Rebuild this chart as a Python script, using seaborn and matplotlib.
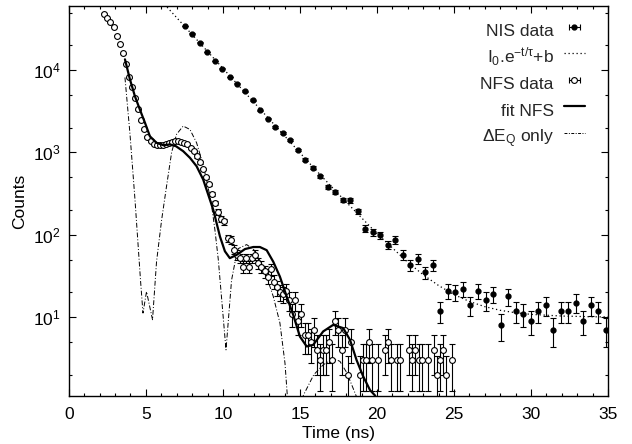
import numpy as np
import matplotlib
matplotlib.use("Agg")
import matplotlib.pyplot as plt
import seaborn as sns
from matplotlib.lines import Line2D
from matplotlib.legend_handler import HandlerLine2D
from matplotlib.ticker import LogLocator, MultipleLocator, NullFormatter

# NIS data (delayed nuclear inelastic scattering), channel width ~0.488 ns
nis_time = np.round(7.53 + 0.488 * np.arange(57), 3)
nis_counts = [34300, 27700, 21500, 16500, 12900, 10400, 8220, 6840, 5560, 4320,
              3260, 2580, 2050, 1730, 1400, 1080, 820, 650, 513, 378,
              328, 267, 262, 193, 119, 108, 98, 76, 87, 57,
              43, 51, 35, 43, 12, 21, 20, 22, 14, 21,
              16, 19, 8, 18, 12, 11, 9, 12, 14, 7,
              12, 12, 15, 9, 14, 12, 7]

# exponential fit of NIS, I0.exp(-t/tau)+b
decay_time = [6.2, 8, 10, 12, 14, 16, 18, 20, 22, 23, 24, 25, 26, 27, 28, 29, 30, 32, 34, 35]
decay_counts = [63100, 27000, 10500, 4080, 1590, 618, 250, 103.5, 46.4, 32.7, 24.2,
                18.8, 15.5, 13.4, 12.1, 11.3, 10.8, 10.3, 10.1, 10.05]

# NFS data, 0.2 ns channels starting at 2.3 ns (0 = empty channel)
nfs_time = np.round(2.3 + 0.2 * np.arange(114), 2)
nfs_counts = [48500, 43100, 38400, 33800, 26200, 20800, 15900, 11900, 8200, 6190,
              4550, 3350, 2450, 1900, 1550, 1370, 1260, 1220, 1215, 1225,
              1260, 1310, 1350, 1370, 1360, 1320, 1300, 1260, 1120, 1030,
              895, 760, 630, 500, 410, 310, 245, 190, 155, 145,
              91, 87, 66, 57, 52, 41, 52, 41, 52, 57,
              45, 41, 36, 31, 38, 27, 23, 20, 19, 21,
              16, 11, 16, 9, 11, 6, 6, 5, 7, 4,
              3, 4, 4, 5, 3, 9, 7, 4, 7, 2,
              5, 0, 0, 2, 3, 3, 5, 3, 0, 3,
              0, 4, 5, 3, 0, 3, 3, 0, 0, 4,
              3, 4, 3, 3, 0, 3, 0, 4, 2, 3,
              4, 2, 0, 3]

# NFS fit
fit_time = [3.64, 3.96, 4.29, 4.61, 4.94, 5.26, 5.69, 6.12, 6.56, 6.95, 7.42, 7.86,
            8.29, 8.72, 9.37, 9.81, 10.13, 10.45, 10.89, 11.43, 11.97, 12.4, 12.84,
            13.27, 13.7, 14.14, 14.56, 15.0, 15.44, 15.86, 16.51, 17.16, 17.81,
            18.25, 18.68, 19.11, 19.55, 19.87, 20.0]
fit_counts = [13500, 7760, 4790, 3310, 2290, 1570, 1310, 1225, 1250, 1190, 1035, 860,
              680, 468, 202, 95, 63, 52, 57, 67, 71, 71, 65,
              47, 31, 17.8, 10.7, 5.8, 4.4, 4.6, 6.7, 8.05, 7.35,
              5.3, 3.0, 1.9, 1.3, 1.12, 1.0]

# quadrupole splitting only
dq_time = [3.64, 3.96, 4.29, 4.5, 4.65, 4.81, 5.04, 5.43, 5.69, 6.02, 6.34, 6.67,
           6.99, 7.42, 7.86, 8.29, 8.62, 8.94, 9.27, 9.48, 9.7, 10.2, 10.56, 10.78,
           11.0, 11.54, 12.0, 12.62, 13.27, 13.7, 14.03, 14.18, 14.6, 15.22, 15.9,
           16.51, 17.16, 17.6, 18.05, 18.5, 18.68, 19.0]
dq_counts = [8130, 1730, 269, 72, 28, 11.2, 20.4, 9.3, 47, 151, 389, 1000,
             1660, 2090, 1900, 1310, 813, 468, 224, 115, 50, 4.0, 28, 46,
             68, 76, 66, 41, 17.8, 8.5, 2.75, 1.12, 0.3, 1.12, 2.0,
             2.63, 3.16, 2.9, 2.1, 1.3, 1.07, 0.3]

sns.set_style("ticks")
plt.rcParams["font.family"] = ["Liberation Sans", "DejaVu Sans"]
plt.rcParams["mathtext.default"] = "regular"
plt.rcParams["font.size"] = 12

fig = plt.figure(figsize=(6.32, 4.44), dpi=100)
ax = fig.add_axes([0.109, 0.108, 0.853, 0.8785])
ax.set_yscale("log")

nis_counts = np.array(nis_counts, dtype=float)
nfs_counts = np.array(nfs_counts, dtype=float)
seen = nfs_counts > 0

ax.errorbar(nis_time, nis_counts, yerr=np.sqrt(nis_counts), fmt="o", ms=3.5,
            color="k", ecolor="k", elinewidth=0.8, capsize=2.4, capthick=0.8, zorder=3)
sns.lineplot(x=decay_time, y=decay_counts, ax=ax, color="k", lw=0.9,
             linestyle=(0, (1, 2.2)), estimator=None, sort=False)
ax.errorbar(nfs_time[seen], nfs_counts[seen], yerr=np.sqrt(nfs_counts[seen]), fmt="o",
            ms=4.2, mfc="white", mec="k", mew=0.8, ecolor="k", elinewidth=0.8,
            capsize=2.4, capthick=0.8, zorder=4)
sns.lineplot(x=fit_time, y=fit_counts, ax=ax, color="k", lw=1.6,
             estimator=None, sort=False, zorder=5)
sns.lineplot(x=dq_time, y=dq_counts, ax=ax, color="k", lw=0.7,
             linestyle=(0, (5, 2, 1, 2)), estimator=None, sort=False)

ax.set_xlim(0, 35)
ax.set_ylim(1.1, 6e4)
ax.xaxis.set_major_locator(MultipleLocator(5))
ax.xaxis.set_minor_locator(MultipleLocator(1))
ax.yaxis.set_major_locator(LogLocator(base=10))
ax.yaxis.set_minor_locator(LogLocator(base=10, subs=(2, 5)))
ax.yaxis.set_minor_formatter(NullFormatter())
ax.tick_params(which="both", direction="in", top=True, right=True, color="k",
               labelcolor="k", labelsize=12.5, width=0.8)
ax.tick_params(which="major", length=5)
ax.tick_params(axis="x", which="major", pad=8)
ax.tick_params(axis="y", which="major", pad=6)
ax.tick_params(which="minor", length=2.5)
for s in ax.spines.values():
    s.set_linewidth(1.0)
    s.set_color("k")

ax.set_xlabel("Time (ns)", fontsize=12.5, color="k", labelpad=3)
ax.set_ylabel("Counts", fontsize=12.5, color="k", labelpad=4)

cap_nis = Line2D([], [], color="k", lw=0.8, marker="|", ms=5, mew=0.8)
dot_nis = Line2D([], [], ls="none", marker="o", ms=3.5, color="k")
cap_nfs = Line2D([], [], color="k", lw=0.8, marker="|", ms=5, mew=0.8)
dot_nfs = Line2D([], [], ls="none", marker="o", ms=4.2, mfc="white", mec="k", mew=0.8)
h_decay = Line2D([], [], color="k", lw=0.9, linestyle=(0, (1, 2.2)))
h_fit = Line2D([], [], color="k", lw=1.6)
h_dq = Line2D([], [], color="k", lw=0.7, linestyle=(0, (3, 1.5, 1, 1.5)))

handles = [(cap_nis, dot_nis), h_decay, (cap_nfs, dot_nfs), h_fit, h_dq]
labels = ["NIS data", r"I$_0$.e$^{-t/\tau}$+b", "NFS data", "fit NFS", r"$\Delta$E$_Q$ only"]
# tall handle boxes give every row the same height, like gnuplot's key
ax.legend(handles, labels, loc="upper right", bbox_to_anchor=(0.957, 0.97),
          frameon=False, markerfirst=False, handlelength=1.2, handletextpad=0.6,
          handleheight=1.96, labelspacing=0, borderpad=0, borderaxespad=0,
          fontsize=12.5,
          handler_map={cap_nis: HandlerLine2D(numpoints=2),
                       cap_nfs: HandlerLine2D(numpoints=2)})

fig.savefig("out.png", dpi=100)
